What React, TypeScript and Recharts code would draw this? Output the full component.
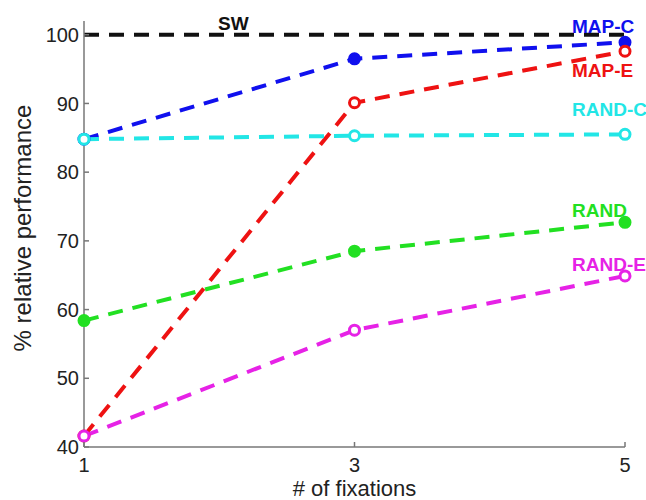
import { LineChart, Line, XAxis, YAxis, LabelList } from 'recharts'

const FIXATIONS = [1, 3, 5]
const SW = [100, 100, 100]
const MAP_C = [84.8, 96.5, 98.9]
const MAP_E = [41.6, 90.1, 97.6]
const RAND_C = [84.8, 85.3, 85.5]
const RAND = [58.4, 68.5, 72.7]
const RAND_E = [41.6, 57.0, 64.9]
const Y_TICKS = [40, 50, 60, 70, 80, 90, 100]

const FONT = '"Liberation Sans", Arial, Helvetica, sans-serif'

const data = FIXATIONS.map((f, i) => ({
  fix: f,
  sw: SW[i],
  mapC: MAP_C[i],
  mapE: MAP_E[i],
  randC: RAND_C[i],
  rand: RAND[i],
  randE: RAND_E[i],
}))

// series drawn in this order; label offsets are relative to the last point
const SERIES = [
  { key: 'mapC', name: 'MAP-C', color: '#1010ee', filled: true, dx: -53, dy: -9 },
  { key: 'mapE', name: 'MAP-E', color: '#ee1212', filled: false, dx: -53, dy: 26 },
  { key: 'randC', name: 'RAND-C', color: '#22e6e6', filled: false, dx: -53, dy: -18 },
  { key: 'rand', name: 'RAND', color: '#22e022', filled: true, dx: -53, dy: -5 },
  { key: 'randE', name: 'RAND-E', color: '#e622e6', filled: false, dx: -53, dy: -5 },
]

function YTick({ x, y, payload }: any) {
  return (
    <g>
      <line x1={x} y1={y} x2={x + 5} y2={y} stroke="#777" strokeWidth={1.5} />
      <text x={x - 5} y={y} dy="0.36em" textAnchor="end" fontSize={20} fontFamily={FONT} fill="#222">
        {payload.value}
      </text>
    </g>
  )
}

function XTick({ x, y, payload }: any) {
  return (
    <g>
      <line x1={x} y1={y} x2={x} y2={y - 5} stroke="#777" strokeWidth={1.5} />
      <text x={x} y={y + 25} textAnchor="middle" fontSize={20} fontFamily={FONT} fill="#222">
        {payload.value}
      </text>
    </g>
  )
}

function endLabel(name: string, color: string, dx: number, dy: number, at: number) {
  return (props: any) => {
    if (props.index !== at) return null
    return (
      <text x={props.x + dx} y={props.y + dy} fontSize={19} fontWeight="bold" fontFamily={FONT} fill={color}>
        {name}
      </text>
    )
  }
}

function dot(color: string, filled: boolean) {
  return (props: any) => (
    <circle key={props.index} cx={props.cx} cy={props.cy} r={5}
      fill={filled ? color : '#fff'} stroke={color} strokeWidth={3} />
  )
}

function YLabel({ viewBox }: any) {
  const cy = viewBox.y + viewBox.height / 2 - 6
  return (
    <text x={31} y={cy} transform={`rotate(-90 31 ${cy})`} textAnchor="middle"
      fontSize={24} fontFamily={FONT} fill="#222">
      % relative performance
    </text>
  )
}

export default function App() {
  return (
    <div style={{ position: 'absolute', left: 0, top: 0, background: '#fff' }}>
      <LineChart width={646} height={500} data={data} margin={{ top: 21, right: 21, left: 0, bottom: 0 }}>
        <XAxis dataKey="fix" type="number" domain={[1, 5]} ticks={FIXATIONS} height={53}
          tickSize={0} tickMargin={0} tick={<XTick />}
          axisLine={{ stroke: '#777', strokeWidth: 1.5 }}
          label={{ value: '# of fixations', position: 'insideBottom', offset: 4, fontSize: 22, fontFamily: FONT, fill: '#222' }} />
        <YAxis type="number" domain={[40, 102]} ticks={Y_TICKS} width={84}
          tickSize={0} tickMargin={0} tick={<YTick />} allowDataOverflow
          axisLine={{ stroke: '#777', strokeWidth: 1.5 }}
          label={<YLabel />} />
        <Line dataKey="sw" stroke="#111" strokeWidth={4} strokeDasharray="15 10" dot={false} isAnimationActive={false}>
          <LabelList dataKey="sw" content={endLabel('SW', '#111', 134, -5, 0)} />
        </Line>
        {SERIES.map(s => (
          <Line key={s.key} dataKey={s.key} stroke={s.color} strokeWidth={4} strokeDasharray="15 10"
            dot={dot(s.color, s.filled)} activeDot={false} isAnimationActive={false}>
            <LabelList dataKey={s.key} content={endLabel(s.name, s.color, s.dx, s.dy, 2)} />
          </Line>
        ))}
      </LineChart>
    </div>
  )
}
